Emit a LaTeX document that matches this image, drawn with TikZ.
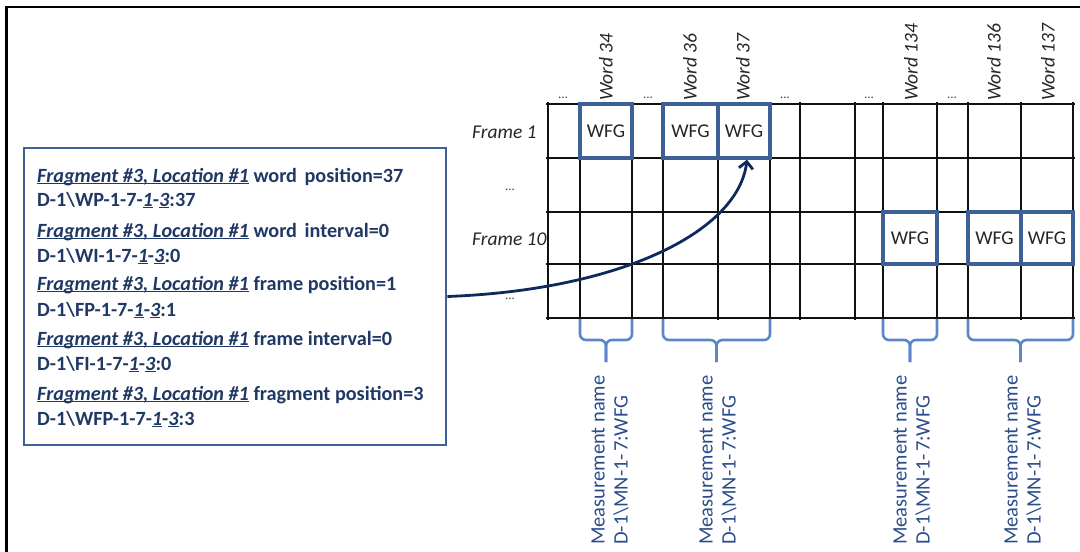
\documentclass[tikz,border=0pt]{standalone}
\usepackage{fontspec}
\setmainfont{Carlito}
\usetikzlibrary{arrows.meta}
\definecolor{navytext}{HTML}{203864}
\definecolor{boxblue}{HTML}{3D6096}
\definecolor{braceblue}{HTML}{5B87C6}
\definecolor{meastext}{HTML}{2B4C8C}
\definecolor{arrownavy}{HTML}{0E2A5C}
\definecolor{gridblack}{HTML}{111111}
\newcommand\ulx[1]{\underline{\smash{#1}}}
\tikzset{
  gridline/.style={line width=1.5pt, draw=gridblack},
  framelinestyle/.style={line width=2.5pt, draw=black},
  fragbox/.style={draw=boxblue, line width=2.8pt, minimum width=422pt, minimum height=297pt, inner sep=0pt},
  fragline/.style={anchor=base west, inner sep=0pt, text=navytext, font=\fontsize{20.2}{24}\selectfont\bfseries},
  wfg/.style={draw=boxblue, line width=3.3pt, inner sep=0pt, minimum height=54pt, text=black!85, font=\fontsize{19.5}{22}\selectfont},
  wordlbl/.style={rotate=90, anchor=west, inner sep=0pt, text=black!85, font=\fontsize{19.5}{22}\selectfont\itshape},
  framelbl/.style={anchor=west, inner sep=0pt, text=black!85, font=\fontsize{19.5}{22}\selectfont\itshape},
  dotlbl/.style={anchor=base, inner sep=0pt, text=black!75, font=\fontsize{13}{14}\selectfont},
  brc/.style={draw=braceblue, line width=2.6pt, rounded corners=6pt},
  mlbl/.style={rotate=90, anchor=west, align=left, inner sep=0pt, text=meastext, font=\fontsize{20.5}{23}\selectfont},
  conn/.style={draw=arrownavy, line width=2.8pt, -{Straight Barb[length=7pt,width=14pt]}}
}
\begin{document}
\begin{tikzpicture}[x=1pt,y=-1pt]
\useasboundingbox (0,0) rectangle (1080,552);
% outer frame (left and top edges)
\draw[framelinestyle] (6.5,552) -- (6.5,7) -- (1080,7);

% grid
\foreach \yy in {104,158,212,264,318} \draw[gridline] (546,\yy) -- (1075,\yy);
\foreach \xx in {548,580,632,663,718,770,800,855,883,937,968,1021,1073} \draw[gridline] (\xx,102) -- (\xx,320);

% WFG boxes
\node[wfg, minimum width=52pt] (w34) at (606,131) {WFG};
\node[wfg, minimum width=55pt] (w36) at (690.5,131) {WFG};
\node[wfg, minimum width=52pt] (w37) at (744,131) {WFG};
\node[wfg, minimum width=54pt, minimum height=52pt] (w134) at (910,238) {WFG};
\node[wfg, minimum width=53pt, minimum height=52pt] (w136) at (994.5,238) {WFG};
\node[wfg, minimum width=52pt, minimum height=52pt] (w137) at (1047,238) {WFG};

% word labels
\node[wordlbl] (lw34) at (606,101) {Word 34};
\node[wordlbl] (lw36) at (690,101) {Word 36};
\node[wordlbl] (lw37) at (743,101) {Word 37};
\node[wordlbl] (lw134) at (911,101) {Word 134};
\node[wordlbl] (lw136) at (994,101) {Word 136};
\node[wordlbl] (lw137) at (1048,101) {Word 137};

% dots
\node[dotlbl] (d1) at (563,98) {...};
\node[dotlbl] (d2) at (648,98) {...};
\node[dotlbl] (d3) at (785,98) {...};
\node[dotlbl] (d4) at (869,98) {...};
\node[dotlbl] (d5) at (952,98) {...};
\node[dotlbl] (d6) at (510,190) {...};
\node[dotlbl] (d7) at (510,299) {...};

% frame labels
\node[framelbl] (f1) at (472,132) {Frame 1};
\node[framelbl] (f10) at (472,239) {Frame 10};

% braces
\foreach \xl/\xr in {580/632, 663/770, 883/937, 968/1073} {
  \pgfmathsetmacro\xc{(\xl+\xr)/2}
  \draw[brc] (\xl,319) -- (\xl,340) -- (\xc,340) -- (\xc,362);
  \draw[brc] (\xr,319) -- (\xr,340) -- (\xc,340) -- (\xc,362);
}

% measurement labels
\node[mlbl] (m1) at (610,545) {Measurement name\\D-1\textbackslash MN-1-\kern2pt 7:WFG};
\node[mlbl] (m2) at (718,545) {Measurement name\\D-1\textbackslash MN-1-\kern2pt 7:WFG};
\node[mlbl] (m3) at (912,545) {Measurement name\\D-1\textbackslash MN-1-\kern2pt 7:WFG};
\node[mlbl] (m4) at (1023,545) {Measurement name\\D-1\textbackslash MN-1-\kern2pt 7:WFG};

% fragment box
\node[fragbox] (box) at (235,296.5) {};
\node[fragline] (l1) at (37,182) {\ulx{\textit{Fragment \#3, Location \#1}} word\kern3pt\ position=37};
\node[fragline] (l2) at (37,206) {D-1\textbackslash WP-1-7-\ulx{\textit{1}}-\ulx{\textit{3}}:37};
\node[fragline] (l3) at (37,237) {\ulx{\textit{Fragment \#3, Location \#1}} word\kern3pt\ interval=0};
\node[fragline] (l4) at (37,262) {D-1\textbackslash WI-1-7-\ulx{\textit{1}}-\ulx{\textit{3}}:0};
\node[fragline] (l5) at (37,290) {\ulx{\textit{Fragment \#3, Location \#1}} frame position=1};
\node[fragline] (l6) at (37,316) {D-1\textbackslash FP-1-7-\ulx{\textit{1}}-\ulx{\textit{3}}:1};
\node[fragline] (l7) at (37,345) {\ulx{\textit{Fragment \#3, Location \#1}} frame interval=0};
\node[fragline] (l8) at (37,370) {D-1\textbackslash FI-1-7-\ulx{\textit{1}}-\ulx{\textit{3}}:0};
\node[fragline] (l9) at (37,400) {\ulx{\textit{Fragment \#3, Location \#1}} fragment position=3};
\node[fragline] (l10) at (37,425) {D-1\textbackslash WFP-1-7-\ulx{\textit{1}}-\ulx{\textit{3}}:3};

% connector
\draw[conn] (box.east) .. controls (620,290) and (738,232) .. ([xshift=3pt]w37.south);
\end{tikzpicture}
\end{document}
